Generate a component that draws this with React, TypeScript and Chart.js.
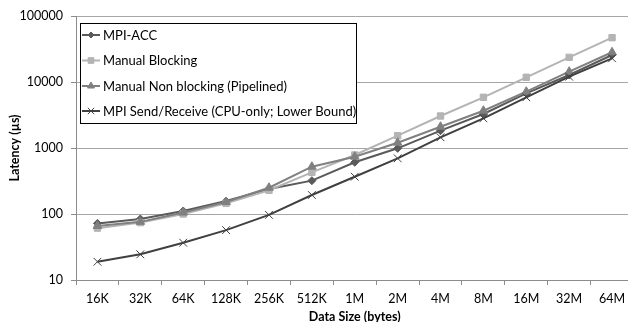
import React, { useEffect, useRef } from "react";
import { Chart, registerables } from "chart.js";
import { drawPoint } from "chart.js/helpers";

Chart.register(...registerables);

const categories = ["16K", "32K", "64K", "128K", "256K", "512K", "1M", "2M", "4M", "8M", "16M", "32M", "64M"];
const mpiAcc = [72, 84, 111, 157, 239, 320, 607, 989, 1829, 3275, 6745, 12770, 25650];
const manualBlocking = [61, 74, 100, 145, 229, 428, 783, 1536, 3053, 5865, 11780, 23660, 46900];
const manualNonBlocking = [66, 76, 105, 152, 250, 521, 738, 1203, 2103, 3674, 7130, 14320, 28200];
const mpiSendRecv = [18.9, 24.5, 36.7, 57, 97, 194, 367, 698, 1453, 2818, 5865, 12030, 22860];
const yTicks = [10, 100, 1000, 10000, 100000];
const xTitle = "Data Size (bytes)";
const yTitle = "Latency (µs)";

const FONT = "Lato, 'Noto Sans', sans-serif";

const boxLegend = {
  id: "boxLegend",
  afterDraw(chart: any) {
    const ctx = chart.ctx;
    const ca = chart.chartArea;
    const xs = chart.scales.x;
    ctx.save();
    // x axis title centred on the plot area
    ctx.fillStyle = "#000000";
    ctx.font = `bold 12.5px ${FONT}`;
    ctx.textAlign = "center";
    ctx.textBaseline = "middle";
    ctx.fillText(xTitle, (ca.left + ca.right) / 2, xs.bottom - 23.5);

    const x0 = 80.5, y0 = 23.5, w = 276, h = 100;
    ctx.fillStyle = "#ffffff";
    ctx.fillRect(x0, y0, w, h);
    ctx.strokeStyle = "#000000";
    ctx.lineWidth = 1;
    ctx.strokeRect(x0, y0, w, h);
    const rows = [35, 60.5, 86, 111];
    chart.data.datasets.forEach((ds: any, i: number) => {
      const y = rows[i];
      ctx.strokeStyle = ds.borderColor;
      ctx.lineWidth = 2;
      ctx.beginPath();
      ctx.moveTo(82, y);
      ctx.lineTo(100, y);
      ctx.stroke();
      ctx.fillStyle = ds.pointBackgroundColor;
      ctx.strokeStyle = ds.pointBorderColor;
      ctx.lineWidth = 1;
      drawPoint(ctx, { pointStyle: ds.pointStyle, rotation: 0, borderWidth: 1, radius: ds.legendRadius }, 91, y);
      ctx.fillStyle = "#000000";
      ctx.font = `13px ${FONT}`;
      ctx.textBaseline = "middle";
      ctx.textAlign = "left";
      ctx.fillText(ds.label, 103, y + 0.5);
    });
    ctx.restore();
  },
};

export default function App() {
  const ref = useRef<HTMLCanvasElement>(null);
  useEffect(() => {
    if (!ref.current) return;
    const mk = (label: string, data: number[], color: string, style: string, r: number, order: number, legendRadius: number) => ({
      label,
      data,
      borderColor: color,
      backgroundColor: color,
      pointBackgroundColor: color,
      pointBorderColor: color,
      pointStyle: style,
      pointRadius: r,
      pointBorderWidth: 1,
      borderWidth: 2,
      tension: 0,
      order,
      legendRadius,
    });
    const chart = new Chart(ref.current, {
      type: "line",
      data: {
        labels: categories,
        datasets: [
          mk("MPI-ACC", mpiAcc, "#5a5a5a", "rectRot", 4, 4, 3),
          mk("Manual Blocking", manualBlocking, "#b4b4b4", "rect", 4.5, 3, 4),
          mk("Manual Non blocking (Pipelined)", manualNonBlocking, "#808080", "triangle", 5, 2, 4),
          mk("MPI Send/Receive (CPU-only; Lower Bound)", mpiSendRecv, "#404040", "crossRot", 5.5, 1, 4.5),
        ] as any,
      },
      options: {
        responsive: false,
        animation: false,
        devicePixelRatio: 1,
        layout: { padding: { top: 16, right: 5, left: 0, bottom: 0 } },
        plugins: { legend: { display: false }, tooltip: { enabled: false } },
        scales: {
          x: {
            type: "category",
            offset: true,
            grid: { display: true, drawOnChartArea: false, drawTicks: true, tickLength: 5, color: "#8c8c8c", offset: true },
            border: { display: true, color: "#8c8c8c" },
            ticks: { color: "#000000", font: { family: FONT, size: 12.5 }, padding: 6, maxRotation: 0, autoSkip: false },
            title: { display: false },
            afterFit: (s: any) => { s.height = 60; },
          },
          y: {
            type: "logarithmic",
            min: 10,
            max: 100000,
            afterBuildTicks: (s: any) => { s.ticks = yTicks.map((v) => ({ value: v })); },
            grid: { color: "#a6a6a6", tickColor: "#8c8c8c", tickLength: 5, drawTicks: true },
            border: { display: true, color: "#8c8c8c" },
            ticks: { color: "#000000", font: { family: FONT, size: 12.5 }, padding: 8, callback: (v: any) => String(v) },
            title: { display: true, text: yTitle, color: "#000000", font: { family: FONT, size: 12.5, weight: "bold" }, padding: { top: 7, bottom: 0 } },
            afterFit: (s: any) => { s.width = 76; },
          },
        },
      } as any,
      plugins: [boxLegend],
    });
    return () => chart.destroy();
  }, []);
  return (
    <div style={{ position: "fixed", left: 0, top: 0, width: 628, height: 322, overflow: "hidden", background: "#fff" }}>
      <canvas ref={ref} width={640} height={340} style={{ display: "block" }} />
    </div>
  );
}
